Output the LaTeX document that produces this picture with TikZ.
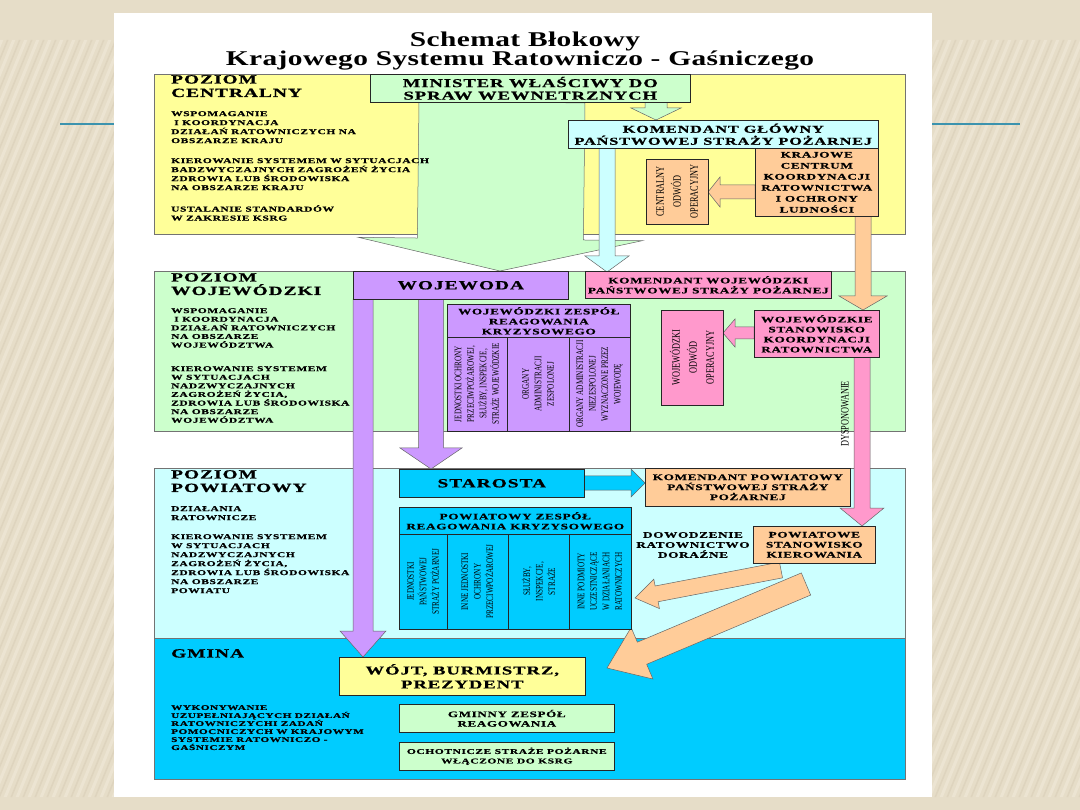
\documentclass[tikz,border=0pt]{standalone}
\usepackage{fontspec}
\setmainfont{Liberation Serif}
\newfontfamily\widefont[FakeStretch=1.55,LetterSpace=8,FakeBold=0.8]{Liberation Serif}
\newfontfamily\titlefont[FakeStretch=1.4,LetterSpace=2]{Liberation Serif}
\newfontfamily\narrowfont[FakeStretch=0.72]{Liberation Serif}
\usetikzlibrary{calc}

\definecolor{slidebg}{HTML}{E6DDC8}
\definecolor{stripelt}{HTML}{ECE4D2}
\definecolor{stripedk}{HTML}{DED4BE}
\definecolor{tealline}{HTML}{3C93AE}
\definecolor{lvlyellow}{HTML}{FFFF99}
\definecolor{lvlgreen}{HTML}{CCFFCC}
\definecolor{lvlcyan}{HTML}{CCFFFF}
\definecolor{lvlblue}{HTML}{00CCFF}
\definecolor{boxpurple}{HTML}{CC99FF}
\definecolor{boxpink}{HTML}{FF99CC}
\definecolor{boxorange}{HTML}{FFCC99}

\newcommand{\headtxt}{\widefont\bfseries\fontsize{12.5}{13.5}\selectfont}
\newcommand{\bodytxt}{\widefont\bfseries\fontsize{7.4}{9}\selectfont}
\newcommand{\boxtxt}{\widefont\bfseries\fontsize{8.5}{10}\selectfont}
\newcommand{\rottxt}{\narrowfont\fontsize{10}{12.5}\selectfont}

% block arrow: style, from, to, half shaft, half head, head length
\newcommand{\blockarrow}[6][]{%
  \coordinate (ba-h) at ($(#3)!#6!(#2)$);
  \filldraw[#1] ($(#2)!#4!90:(#3)$) -- ($(ba-h)!#4!90:(#3)$) -- ($(ba-h)!#5!90:(#3)$) -- (#3)
    -- ($(ba-h)!#5!-90:(#3)$) -- ($(ba-h)!#4!-90:(#3)$) -- ($(#2)!#4!-90:(#3)$) -- cycle;
}

\begin{document}
\begin{tikzpicture}[x=1pt,y=-1pt,
  panel/.style={draw=black!55, line width=0.7pt},
  box/.style={draw=black!85, line width=0.6pt, inner sep=1pt, align=center, anchor=north west, font=\boxtxt},
  colbox/.style={draw=black!85, line width=0.6pt, inner sep=1pt, align=center, rotate=90, font=\rottxt},
  levelhead/.style={anchor=north west, align=left, inner sep=0pt, font=\headtxt},
  leveltext/.style={anchor=north west, align=left, inner sep=0pt, font=\bodytxt},
  arrow/.style={draw=black!60, line width=0.5pt}]

  \useasboundingbox (0,0) rectangle (1080,810);

  % slide background
  \fill[slidebg] (0,0) rectangle (1080,810);
  \begin{scope}
    \clip (0,40) rectangle (114,797) (932,40) rectangle (1080,797);
    \foreach \s in {-40,...,100} {
      \draw[stripelt, line width=3pt] (\s*12,810) -- ++(330,-810);
      \draw[stripedk, line width=1.5pt] (\s*12+6,810) -- ++(330,-810);
    }
  \end{scope}
  \draw[tealline, line width=2pt] (60,124) -- (1020,124);
  \fill[white] (114,13) rectangle (932,797);

  % title
  \node[anchor=base, font=\titlefont\bfseries\fontsize{21}{22}\selectfont] (title1) at (525,47) {Schemat Błokowy};
  \node[anchor=base, font=\titlefont\bfseries\fontsize{21}{22}\selectfont] (title2) at (520,66) {Krajowego Systemu Ratowniczo - Gaśniczego};

  % levels
  \filldraw[panel, fill=lvlyellow] (154,74) rectangle (905,234);
  \filldraw[panel, fill=lvlgreen] (154,271) rectangle (905,431);
  \filldraw[panel, fill=lvlcyan] (154,468) rectangle (905,638);
  \filldraw[panel, fill=lvlblue] (154,638) rectangle (905,779);

  % arrows
  \coordinate (gTop) at (502,102);  \coordinate (gTip) at (500,271);
  \coordinate (mTop) at (656,102);  \coordinate (mTip) at (656,120);
  \coordinate (bTop) at (607,148);  \coordinate (bTip) at (607,272);
  \coordinate (oTop) at (863,216);  \coordinate (oTip) at (863,310);
  \coordinate (cTail) at (755,192); \coordinate (cTip) at (708,192);
  \coordinate (wTail) at (754,333); \coordinate (wTip) at (723,333);
  \coordinate (dTop) at (862,357);  \coordinate (dTip) at (862,526);
  \coordinate (vTop) at (363,299);  \coordinate (vTip) at (363,657);
  \coordinate (sTop) at (431,299);  \coordinate (sTip) at (431,469);
  \coordinate (kTail) at (584,483); \coordinate (kTip) at (645,483);
  \coordinate (r1Tail) at (781,570); \coordinate (r1Tip) at (635,598);
  \coordinate (r2Tail) at (806,584); \coordinate (r2Tip) at (607,668);

  \blockarrow[arrow, fill=lvlgreen]{gTop}{gTip}{83pt}{142pt}{32pt}
  \blockarrow[arrow, fill=lvlgreen]{mTop}{mTip}{11pt}{25pt}{12pt}
  \blockarrow[arrow, fill=lvlcyan]{bTop}{bTip}{8pt}{22pt}{16pt}
  \blockarrow[arrow, fill=boxorange]{oTop}{oTip}{8pt}{24pt}{14pt}
  \blockarrow[arrow, fill=boxorange]{cTail}{cTip}{7pt}{15pt}{12pt}
  \blockarrow[arrow, fill=boxpink]{wTail}{wTip}{6pt}{14pt}{12pt}
  \blockarrow[arrow, fill=boxpink]{dTop}{dTip}{8pt}{22pt}{18pt}
  \blockarrow[arrow, fill=boxpurple]{vTop}{vTip}{10pt}{23pt}{26pt}
  \blockarrow[arrow, fill=boxpurple]{sTop}{sTip}{12.5pt}{31pt}{21pt}
  \blockarrow[arrow, fill=lvlblue]{kTail}{kTip}{7pt}{14pt}{14pt}
  \blockarrow[arrow, fill=boxorange]{r1Tail}{r1Tip}{8pt}{15pt}{22pt}
  \blockarrow[arrow, fill=boxorange]{r2Tail}{r2Tip}{12pt}{28pt}{38pt}

  % level texts
  \node[levelhead] (hc) at (171,75) {POZIOM\\CENTRALNY};
  \node[leveltext] (tc1) at (171,111) {WSPOMAGANIE\\\hspace{3pt}I KOORDYNACJA\\DZIAŁAŃ RATOWNICZYCH NA\\OBSZARZE KRAJU};
  \node[leveltext] (tc2) at (171,158) {KIEROWANIE SYSTEMEM W SYTUACJACH\\BADZWYCZAJNYCH ZAGROŻEŃ ŻYCIA\\ZDROWIA LUB ŚRODOWISKA\\NA OBSZARZE KRAJU};
  \node[leveltext] (tc3) at (171,205) {USTALANIE STANDARDÓW\\W ZAKRESIE KSRG};

  \node[levelhead, font=\widefont\bfseries\fontsize{12.5}{13.5}\selectfont] (hw) at (171,273) {POZIOM\\WOJEWÓDZKI};
  \node[leveltext, font=\widefont\bfseries\fontsize{7.4}{8.6}\selectfont] (tw1) at (171,308) {WSPOMAGANIE\\\hspace{3pt}I KOORDYNACJA\\DZIAŁAŃ RATOWNICZYCH\\NA OBSZARZE\\WOJEWÓDZTWA};
  \node[leveltext, font=\widefont\bfseries\fontsize{7.4}{8.6}\selectfont] (tw2) at (171,366) {KIEROWANIE SYSTEMEM\\W SYTUACJACH\\NADZWYCZAJNYCH\\ZAGROŻEŃ ŻYCIA,\\ZDROWIA LUB ŚRODOWISKA\\NA OBSZARZE\\WOJEWÓDZTWA};

  \node[levelhead] (hp) at (171,470) {POZIOM\\POWIATOWY};
  \node[leveltext] (tp1) at (171,506) {DZIAŁANIA\\RATOWNICZE};
  \node[leveltext] (tp2) at (171,534) {KIEROWANIE SYSTEMEM\\W SYTUACJACH\\NADZWYCZAJNYCH\\ZAGROŻEŃ ŻYCIA,\\ZDROWIA LUB ŚRODOWISKA\\NA OBSZARZE\\POWIATU};

  \node[levelhead] (hg) at (171,649) {GMINA};
  \node[leveltext, font=\widefont\bfseries\fontsize{7.2}{8}\selectfont] (tg) at (171,705) {WYKONYWANIE\\UZUPEŁNIAJĄCYCH DZIAŁAŃ\\RATOWNICZYCHI ZADAŃ\\POMOCNICZYCH W KRAJOWYM\\SYSTEMIE RATOWNICZO -\\GAŚNICZYM};

  % central level boxes
  \node[box, fill=lvlgreen, minimum width=320, minimum height=28, font=\widefont\bfseries\fontsize{12}{12.5}\selectfont] (minister) at (370,74) {MINISTER WŁAŚCIWY DO\\SPRAW WEWNETRZNYCH};
  \node[box, fill=lvlcyan, minimum width=310, minimum height=28, font=\widefont\bfseries\fontsize{10.5}{12}\selectfont] (kg) at (568,120) {KOMENDANT GŁÓWNY\\PAŃSTWOWEJ STRAŻY POŻARNEJ};
  \node[box, fill=boxorange, minimum width=123, minimum height=68, font=\widefont\bfseries\fontsize{8.5}{11}\selectfont] (kcr) at (755,148) {KRAJOWE\\CENTRUM\\KOORDYNACJI\\RATOWNICTWA\\I OCHRONY\\LUDNOŚCI};
  \node[colbox, fill=boxorange, minimum width=65, minimum height=62, font=\narrowfont\fontsize{11.5}{17}\selectfont] (codw) at (677,191.5) {CENTRALNY\\ODWÓD\\OPERACYJNY};

  % voivodeship level boxes
  \node[box, fill=boxpurple, minimum width=215, minimum height=28, font=\widefont\bfseries\fontsize{12.5}{13}\selectfont] (woj) at (353,271) {WOJEWODA};
  \node[box, fill=boxpink, minimum width=246, minimum height=27] (kwoj) at (585,271) {KOMENDANT WOJEWÓDZKI\\PAŃSTWOWEJ STRAŻY POŻARNEJ};
  \node[box, fill=boxpurple, minimum width=183, minimum height=33] (wzrk) at (447,304) {WOJEWÓDZKI ZESPÓŁ\\REAGOWANIA\\KRYZYSOWEGO};
  \node[colbox, fill=boxpurple, minimum width=94, minimum height=60] (wzrk1) at (477,384) {JEDNOSTKI OCHRONY\\PRZECIWPOŻAROWEJ,\\SŁUŻBY, INSPEKCJE,\\STRAŻE WOJEWÓDZKIE};
  \node[colbox, fill=boxpurple, minimum width=94, minimum height=62] (wzrk2) at (538,384) {ORGANY\\ADMINISTRACJI\\ZESPOLONEJ};
  \node[colbox, fill=boxpurple, minimum width=94, minimum height=61] (wzrk3) at (599.5,384) {ORGANY ADMINISTRACJI\\NIEZESPOLONEJ\\WYZNACZONE PRZEZ\\WOJEWODĘ};
  \node[box, fill=boxpink, minimum width=125, minimum height=47] (wsk) at (754,310) {WOJEWÓDZKIE\\STANOWISKO\\KOORDYNACJI\\RATOWNICTWA};
  \node[colbox, fill=boxpink, minimum width=95, minimum height=62, font=\narrowfont\fontsize{11.5}{17}\selectfont] (wodw) at (692,357.5) {WOJEWÓDZKI\\ODWÓD\\OPERACYJNY};
  \node[rotate=90, inner sep=0pt, font=\narrowfont\fontsize{11.5}{12}\selectfont] (dysp) at (845,414) {DYSPONOWANIE};

  % district level boxes
  \node[box, fill=lvlblue, minimum width=185, minimum height=28, font=\widefont\bfseries\fontsize{12.5}{13}\selectfont] (star) at (399,469) {STAROSTA};
  \node[box, fill=boxorange, minimum width=205, minimum height=38] (kpow) at (645,468) {KOMENDANT POWIATOWY\\PAŃSTWOWEJ STRAŻY\\POŻARNEJ};
  \node[box, fill=lvlblue, minimum width=232, minimum height=27] (pzrk) at (399,507) {POWIATOWY ZESPÓŁ\\REAGOWANIA KRYZYSOWEGO};
  \node[colbox, fill=lvlblue, minimum width=95, minimum height=48] (pzrk1) at (423,581.5) {JEDNOSTKI\\PAŃSTWOWEJ\\STRAŻY POŻARNEJ};
  \node[colbox, fill=lvlblue, minimum width=95, minimum height=61] (pzrk2) at (477.5,581.5) {INNE JEDNOSTKI\\OCHRONY\\PRZECIWPOŻAROWEJ};
  \node[colbox, fill=lvlblue, minimum width=95, minimum height=61] (pzrk3) at (538.5,581.5) {SŁUŻBY,\\INSPEKCJE,\\STRAŻE};
  \node[colbox, fill=lvlblue, minimum width=95, minimum height=62] (pzrk4) at (600,581.5) {INNE PODMIOTY\\UCZESTNICZĄCE\\W DZIAŁANIACH\\RATOWNICZYCH};
  \node[align=center, inner sep=0pt, font=\boxtxt] (dow) at (693,545) {DOWODZENIE\\RATOWNICTWO\\DORAŹNE};
  \node[box, fill=boxorange, minimum width=122, minimum height=37] (pks) at (753,526) {POWIATOWE\\STANOWISKO\\KIEROWANIA};

  % commune level boxes
  \node[box, fill=lvlyellow, minimum width=246, minimum height=38, font=\widefont\bfseries\fontsize{12}{14}\selectfont] (wojt) at (339,657) {WÓJT, BURMISTRZ,\\PREZYDENT};
  \node[box, fill=lvlgreen, minimum width=215, minimum height=28, font=\widefont\bfseries\fontsize{8.4}{9.5}\selectfont] (gzr) at (399,704) {GMINNY ZESPÓŁ\\REAGOWANIA};
  \node[box, fill=lvlgreen, minimum width=215, minimum height=28, font=\widefont\bfseries\fontsize{7.4}{9.5}\selectfont] (osp) at (399,742) {OCHOTNICZE STRAŻE POŻARNE\\WŁĄCZONE DO KSRG};

\end{tikzpicture}
\end{document}
